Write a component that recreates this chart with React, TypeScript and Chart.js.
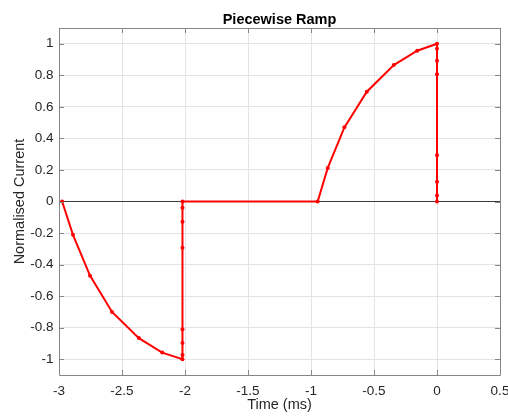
import React, { useEffect, useRef } from "react";
import { Chart, registerables } from "chart.js";

Chart.register(...registerables);

const timeMs: number[] = [
  -2.975, -2.889, -2.754, -2.579, -2.366, -2.181, -2.02,
  -2.02, -2.02, -2.02, -2.02, -2.02, -2.02, -2.02,
  -0.947,
  -0.867, -0.735, -0.557, -0.343, -0.157, 0.0,
  0.0, 0.0, 0.0, 0.0, 0.0, 0.0, 0.0,
];
const current: number[] = [
  0, -0.211, -0.47, -0.7, -0.866, -0.958, -1.0,
  -0.973, -0.897, -0.81, -0.293, -0.128, -0.04, 0,
  0,
  0.213, 0.47, 0.696, 0.865, 0.956, 1.0,
  0.968, 0.892, 0.806, 0.293, 0.125, 0.038, 0,
];
const xTicks: number[] = [-3, -2.5, -2, -1.5, -1, -0.5, 0, 0.5];
const yTicks: number[] = [-1, -0.8, -0.6, -0.4, -0.2, 0, 0.2, 0.4, 0.6, 0.8, 1];

const FONT = '"Liberation Sans", Arial, Helvetica, sans-serif';
const FRAME = "#868686";
const GRID = "#e4e4e4";
const TEXT = "#262626";

const fmt = (v: number) => String(Math.round(v * 100) / 100);

const framePlugin = {
  id: "matlabFrame",
  afterDraw(chart: any) {
    const { ctx, chartArea } = chart;
    const { left, right, top, bottom } = chartArea;
    const xs = chart.scales.x;
    const ys = chart.scales.y;
    const tl = 5;
    ctx.save();
    ctx.strokeStyle = FRAME;
    ctx.lineWidth = 1;
    ctx.beginPath();
    ctx.rect(Math.round(left) + 0.5, Math.round(top) + 0.5, Math.round(right - left), Math.round(bottom - top));
    for (const v of xTicks) {
      const px = Math.round(xs.getPixelForValue(v)) + 0.5;
      ctx.moveTo(px, bottom);
      ctx.lineTo(px, bottom - tl);
      ctx.moveTo(px, top);
      ctx.lineTo(px, top + tl);
    }
    for (const v of yTicks) {
      const py = Math.round(ys.getPixelForValue(v)) + 0.5;
      ctx.moveTo(left, py);
      ctx.lineTo(left + tl, py);
      ctx.moveTo(right, py);
      ctx.lineTo(right - tl, py);
    }
    ctx.stroke();
    ctx.restore();
  },
};

export default function App() {
  const ref = useRef<HTMLCanvasElement | null>(null);
  useEffect(() => {
    if (!ref.current) return;
    const pts = timeMs.map((t, i) => ({ x: t, y: current[i] }));
    const chart = new Chart(ref.current, {
      type: "scatter",
      data: {
        datasets: [
          {
            data: pts,
            showLine: true,
            borderColor: "#ff0000",
            backgroundColor: "#ff0000",
            borderWidth: 2,
            pointRadius: 2,
            pointHoverRadius: 2,
            pointBorderWidth: 0,
            tension: 0,
          },
        ],
      },
      options: {
        responsive: false,
        animation: false,
        layout: { padding: { left: 0, right: 8, top: 0, bottom: 0 } },
        plugins: {
          legend: { display: false },
          tooltip: { enabled: false },
          title: {
            display: true,
            text: "Piecewise Ramp",
            fullSize: false,
            color: "#000000",
            font: { family: FONT, size: 14.5, weight: "bold", lineHeight: 1 },
            padding: { top: 13, bottom: 0.5 },
          },
        },
        scales: {
          x: {
            type: "linear",
            min: -3,
            max: 0.5,
            border: { display: false },
            grid: { color: GRID, drawTicks: false, lineWidth: 1 },
            afterBuildTicks: (s: any) => {
              s.ticks = xTicks.map((v) => ({ value: v }));
            },
            afterFit: (s: any) => {
              s.height = 41;
              s.paddingLeft = 0;
              s.paddingRight = 0;
            },
            ticks: {
              color: TEXT,
              padding: 8,
              maxRotation: 0,
              autoSkip: false,
              font: { family: FONT, size: 13.5 },
              callback: (v: any) => fmt(Number(v)),
            },
            title: {
              display: true,
              text: "Time (ms)",
              color: TEXT,
              font: { family: FONT, size: 14.5, lineHeight: 1 },
              padding: { top: 0, bottom: 3.75 },
            },
          },
          y: {
            type: "linear",
            min: -1.1,
            max: 1.1,
            border: { display: false },
            grid: {
              color: (c: any) => (c.tick && c.tick.value === 0 ? "#3a3a3a" : GRID),
              drawTicks: false,
              lineWidth: 1,
            },
            afterBuildTicks: (s: any) => {
              s.ticks = yTicks.map((v) => ({ value: v }));
            },
            afterFit: (s: any) => {
              s.width = 59;
              s.paddingTop = 0;
              s.paddingBottom = 0;
            },
            ticks: {
              color: TEXT,
              padding: 5.5,
              autoSkip: false,
              font: { family: FONT, size: 13.5 },
              callback: (v: any) => fmt(Number(v)),
            },
            title: {
              display: true,
              text: "Normalised Current",
              color: TEXT,
              font: { family: FONT, size: 14.5, lineHeight: 1 },
              padding: { top: 12.75, bottom: 0 },
            },
          },
        },
      },
      plugins: [framePlugin],
    } as any);
    return () => chart.destroy();
  }, []);
  return (
    <div style={{ position: "absolute", left: 0, top: 0, width: 508, height: 416, background: "#ffffff" }}>
      <canvas ref={ref} width={508} height={416} style={{ display: "block" }} />
    </div>
  );
}
